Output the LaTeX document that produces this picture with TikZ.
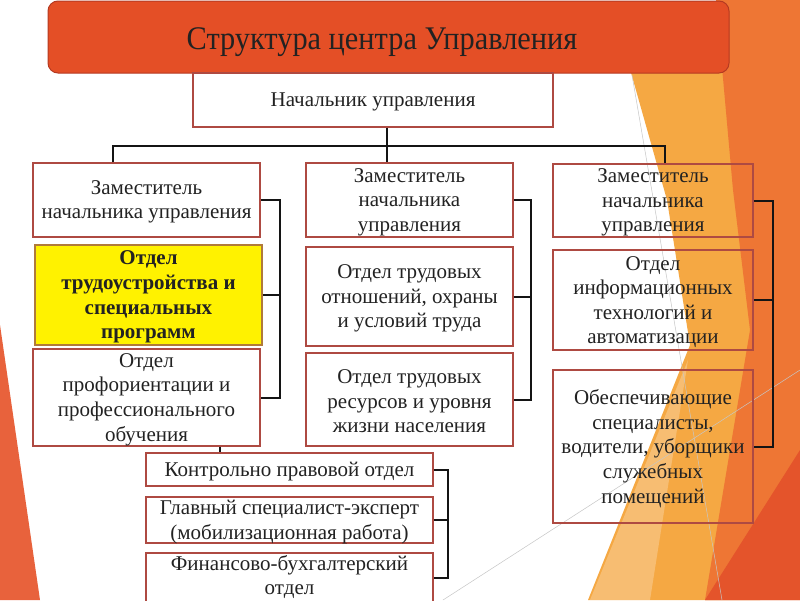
\documentclass[tikz,border=0pt]{standalone}
\usepackage{fontspec}
\setmainfont{Liberation Serif}
\definecolor{titlefill}{HTML}{E44F26}
\definecolor{titledraw}{HTML}{B53A22}
\definecolor{boxc}{HTML}{AE4A42}
\definecolor{ybox}{HTML}{FFF200}
\definecolor{yboxd}{HTML}{B07A3A}
\definecolor{txtc}{HTML}{222222}
\definecolor{bgorange}{HTML}{EE7634}
\definecolor{bgred}{HTML}{E4542B}
\definecolor{bgyellow}{HTML}{F5A843}
\definecolor{bgleft}{HTML}{E8623C}
\begin{document}
\begin{tikzpicture}[x=1pt,y=-1pt,
  box/.style={draw=boxc, line width=1.4pt, rectangle, inner sep=0pt},
  txt/.style={align=center, text=txtc, font=\fontsize{21}{24.6}\selectfont, inner sep=0pt, yshift=-2pt},
  link/.style={draw=black!92, line width=2pt},
  deco/.style={draw=gray!45, line width=0.5pt}]
\useasboundingbox (0,0) rectangle (800,600);
\begin{scope}
\clip (0,0) rectangle (800,600);
% background
\fill[white] (0,0) rectangle (800,600);
\fill[bgleft] (0,325) -- (40,600) -- (0,600) -- cycle;
\fill[bgyellow] (628,62) -- (760,62) -- (760,600) -- (588,600) -- (690,345) -- (667,200) -- cycle;
\fill[white, opacity=0.25] (688,360) -- (650,600) -- (590,600) -- cycle;
\fill[bgorange] (716,0) -- (800,0) -- (800,600) -- (705,600) -- (750,330) -- (733,190) -- cycle;
\fill[bgred] (800,450) -- (800,600) -- (705,600) -- cycle;
\draw[deco] (632,75) -- (722,600);
\draw[deco] (443,600) -- (800,370);

% title
\node[draw=titledraw, fill=titlefill, line width=1pt, rounded corners=10pt, minimum width=681pt, minimum height=72pt, inner sep=0pt] (title) at (388.5,37) {};
\node[text=txtc, inner sep=0pt, font=\fontsize{33}{36}\selectfont] (titletext) at (382,42) {\scalebox{0.92}[1]{Структура центра Управления}};

% boxes
\node[box, minimum width=360pt, minimum height=54pt] (head) at (373,100) {};
\node[txt] (headt) at (head) {Начальник управления};

\node[box, minimum width=227pt, minimum height=74pt] (l1) at (146.5,200) {};
\node[txt] (l1t) at (l1) {Заместитель\\начальника управления};
\node[box, draw=yboxd, fill=ybox, minimum width=227pt, minimum height=100pt] (l2) at (148.5,295) {};
\node[txt, font=\fontsize{21}{24.6}\selectfont\bfseries] (l2t) at (l2) {Отдел\\трудоустройства и\\специальных\\программ};
\node[box, minimum width=227pt, minimum height=97pt] (l3) at (146.5,397.5) {};
\node[txt] (l3t) at (l3) {Отдел\\профориентации и\\профессионального\\обучения};

\node[box, minimum width=207pt, minimum height=74pt] (m1) at (409.5,200) {};
\node[txt] (m1t) at (m1) {Заместитель\\начальника\\управления};
\node[box, minimum width=207pt, minimum height=99pt] (m2) at (409.5,296.5) {};
\node[txt] (m2t) at (m2) {Отдел трудовых\\отношений, охраны\\и условий труда};
\node[box, minimum width=207pt, minimum height=93pt] (m3) at (409.5,399.5) {};
\node[txt] (m3t) at (m3) {Отдел трудовых\\ресурсов и уровня\\жизни населения};

\node[box, minimum width=200pt, minimum height=73pt] (r1) at (653,200.5) {};
\node[txt] (r1t) at (r1) {Заместитель\\начальника\\управления};
\node[box, minimum width=200pt, minimum height=100pt] (r2) at (653,300) {};
\node[txt] (r2t) at (r2) {Отдел\\информационных\\технологий и\\автоматизации};
\node[box, minimum width=200pt, minimum height=153pt] (r3) at (653,446.5) {};
\node[txt] (r3t) at (r3) {Обеспечивающие\\специалисты,\\водители, уборщики\\служебных\\помещений};

\node[box, minimum width=287pt, minimum height=33pt] (b1) at (289.5,469.5) {};
\node[txt] (b1t) at (b1) {Контрольно правовой отдел};
\node[box, minimum width=287pt, minimum height=46pt] (b2) at (289.5,520) {};
\node[txt] (b2t) at (b2) {Главный специалист-эксперт\\(мобилизационная работа)};
\node[box, minimum width=287pt, minimum height=50pt] (b3) at (289.5,578) {};
\node[txt, yshift=3pt] (b3t) at (b3) {Финансово-бухгалтерский\\отдел};

% connectors
\coordinate (hub) at (387,146);
\coordinate (jl) at (113,146);
\coordinate (jr) at (665,146);
\draw[link] (head.south -| hub) -- (m1.north -| hub);
\draw[link] (l1.north -| jl) -- (jl) -- (jr) -- (r1.north -| jr);

\coordinate (bl) at (280,0);
\draw[link] (l1.east) -- (l1.east -| bl) -- (l3.east -| bl) -- (l3.east);
\draw[link] (l2.east) -- (l2.east -| bl);
\coordinate (bm) at (531,0);
\draw[link] (m1.east) -- (m1.east -| bm) -- (m3.east -| bm) -- (m3.east);
\draw[link] (m2.east) -- (m2.east -| bm);
\coordinate (br) at (773,0);
\draw[link] (r1.east) -- (r1.east -| br) -- (r3.east -| br) -- (r3.east);
\draw[link] (r2.east) -- (r2.east -| br);
\coordinate (bb) at (448,0);
\draw[link] (b1.east) -- (b1.east -| bb) -- (b3.east -| bb) -- (b3.east);
\draw[link] (b2.east) -- (b2.east -| bb);
\coordinate (lv) at (220,0);
\draw[link] (l3.south -| lv) -- (b1.north -| lv);
\end{scope}
\end{tikzpicture}
\end{document}
